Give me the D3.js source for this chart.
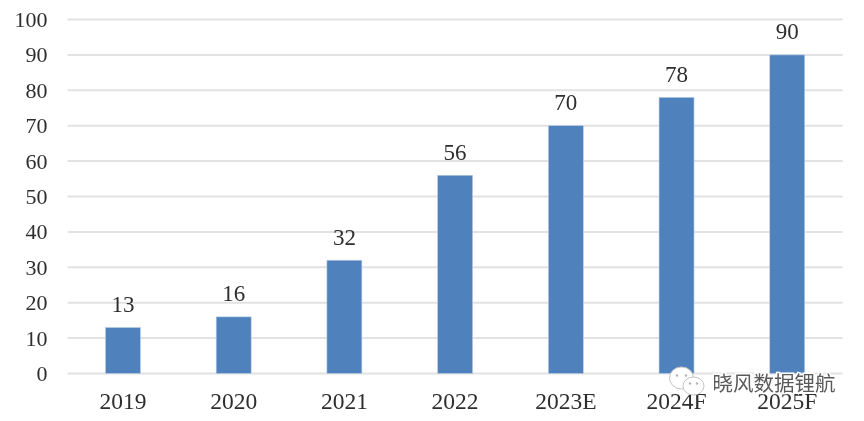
<!DOCTYPE html>
<html>
<head>
<meta charset="utf-8">
<script src="https://cdn.jsdelivr.net/npm/d3@7"></script>
<style>
    html, body { margin: 0; padding: 0; background: #fff; }
    svg { display: block; filter: blur(0.6px); }
</style>
</head>
<body>
<script>
const categories = ['2019', '2020', '2021', '2022', '2023E', '2024F', '2025F']
const values = [13, 16, 32, 56, 70, 78, 90]
const yTicks = [0, 10, 20, 30, 40, 50, 60, 70, 80, 90, 100]
const watermark = '晓风数据锂航'

const width = 864
const height = 421
const serif = '"Liberation Serif", serif'
const textColor = '#2e2e2e'

const svg = d3.select('body').append('svg')
    .attr('width', width)
    .attr('height', height)

const x = d3.scaleBand()
    .domain(categories)
    .range([67.6, 842.6])
    .paddingInner(0.684)
    .paddingOuter(0.342)

const y = d3.scaleLinear()
    .domain([0, 100])
    .range([373.5, 19.5])

// gridlines
svg.append('g')
    .selectAll('line')
    .data(yTicks)
    .join('line')
    .attr('x1', 67.6)
    .attr('x2', 842.6)
    .attr('y1', d => y(d))
    .attr('y2', d => y(d))
    .attr('stroke', '#e2e2e2')
    .attr('stroke-width', 2)

// y labels
svg.append('g')
    .selectAll('text')
    .data(yTicks)
    .join('text')
    .text(d => d)
    .attr('x', 47.5)
    .attr('y', d => y(d) + 7.5)
    .attr('text-anchor', 'end')
    .attr('font-family', serif)
    .attr('font-size', 22)
    .attr('fill', textColor)

// bars
svg.append('g')
    .selectAll('rect')
    .data(values)
    .join('rect')
    .attr('x', (d, i) => x(categories[i]))
    .attr('y', d => y(d))
    .attr('width', x.bandwidth())
    .attr('height', d => y(0) - y(d))
    .attr('fill', '#4f81bd')
    .attr('stroke', '#bcd0e8')
    .attr('stroke-width', 0.6)

// value labels
svg.append('g')
    .selectAll('text')
    .data(values)
    .join('text')
    .text(d => d)
    .attr('x', (d, i) => x(categories[i]) + x.bandwidth() / 2)
    .attr('y', d => y(d) - 15.5)
    .attr('text-anchor', 'middle')
    .attr('font-family', serif)
    .attr('font-size', 23)
    .attr('fill', textColor)

// category labels
svg.append('g')
    .selectAll('text')
    .data(categories)
    .join('text')
    .text(d => d)
    .attr('x', d => x(d) + x.bandwidth() / 2)
    .attr('y', 408.5)
    .attr('text-anchor', 'middle')
    .attr('font-family', serif)
    .attr('font-size', 23.5)
    .attr('fill', textColor)

// watermark
const mark = svg.append('g')

function bubble (cx, cy, rx, ry, eyes, eyeGap){
    mark.append('ellipse')
        .attr('cx', cx)
        .attr('cy', cy)
        .attr('rx', rx)
        .attr('ry', ry)
        .attr('fill', '#fff')
        .attr('stroke', '#c4c4c4')
        .attr('stroke-width', 1)

    mark.selectAll(null)
        .data(eyes)
        .join('circle')
        .attr('cx', d => cx + d * eyeGap)
        .attr('cy', cy - 2.5)
        .attr('r', 1.2)
        .attr('fill', '#b5b5b5')
}

bubble(681.5, 378, 12, 11, [-1, 1], 4.5)
bubble(693.5, 386, 10.5, 9, [-1, 1], 3.5)

mark.append('text')
    .text(watermark)
    .attr('x', 712.5)
    .attr('y', 391)
    .attr('font-family', '"Noto Sans CJK SC", sans-serif')
    .attr('font-size', 20.5)
    .attr('fill', '#fff')
    .attr('stroke', '#fff')
    .attr('stroke-width', 3)
    .attr('paint-order', 'stroke')

mark.append('text')
    .text(watermark)
    .attr('x', 712.5)
    .attr('y', 391)
    .attr('font-family', '"Noto Sans CJK SC", sans-serif')
    .attr('font-size', 20.5)
    .attr('fill', '#5a5a5a')
</script>
</body>
</html>
